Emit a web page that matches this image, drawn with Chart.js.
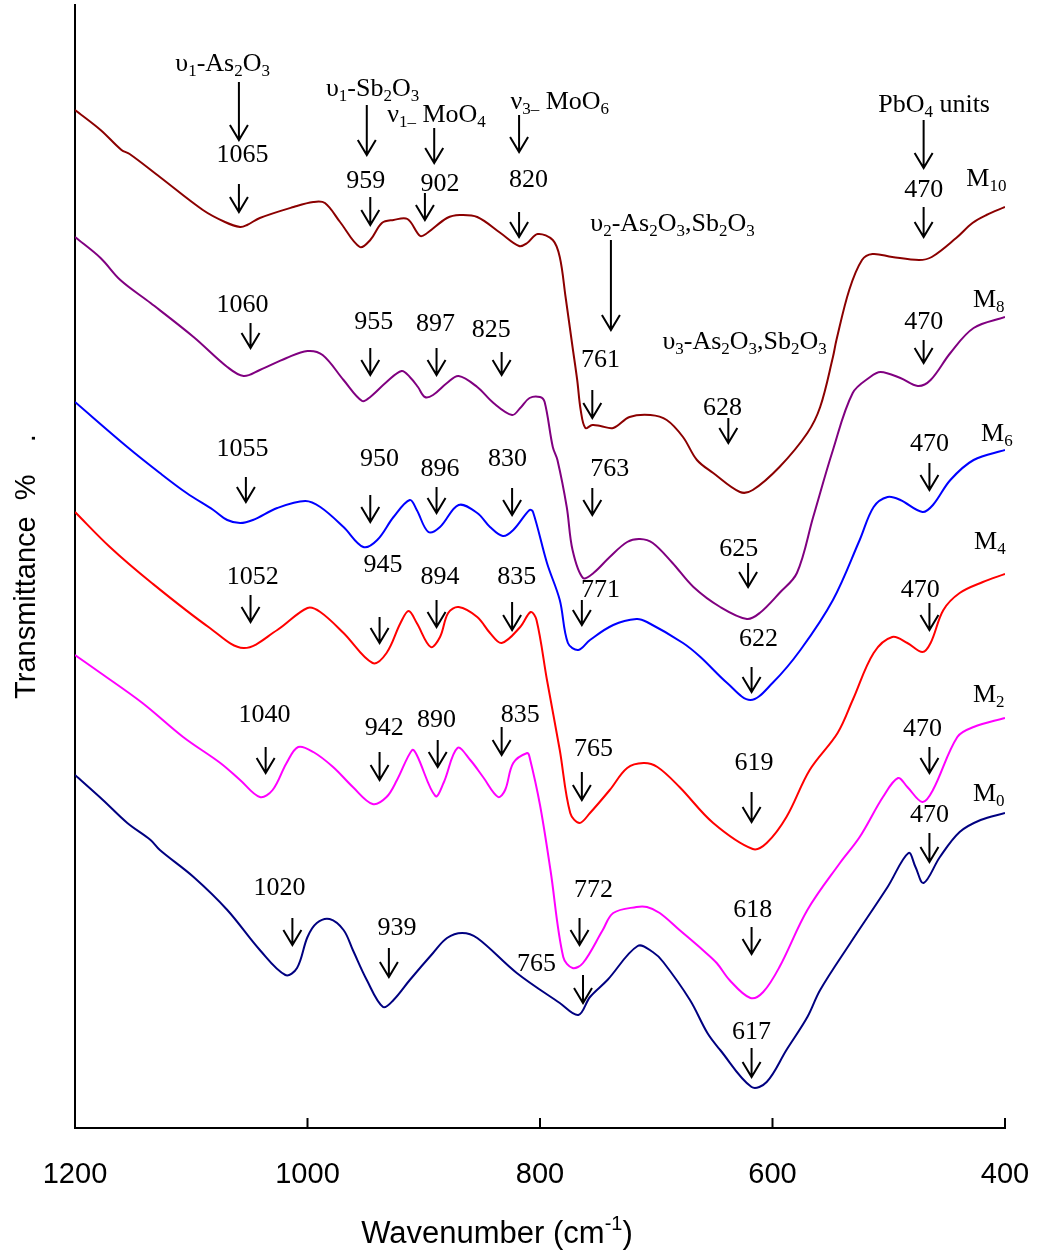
<!DOCTYPE html>
<html>
<head>
<meta charset="utf-8">
<script src="https://cdn.jsdelivr.net/npm/chart.js@4.4.1/dist/chart.umd.min.js"></script>
<style>
  body { margin: 0; background: #fff; }
  canvas { display: block; }
</style>
</head>
<body>
<canvas id="ftir" width="1039" height="1256"></canvas>
<script>
// wavenumber (cm-1) / transmittance (arb. units, stacked)
const m10Wave = [1200,1178,1160,1153,1127,1090,1071,1058,1052,1041,1012,995,985,972,955,946,936,926,914,903,897,880,869,854,834,818,811,802,789,783,778,772,768,765,761,755,748,737,723,705,691,677,665,651,628,617,594,570,559,548,545,534,523,514,497,474,463,442,428,416,400];
const m10T = [1018,998,978,974,951,918,906,901,903,910,921,926,925,906,881,888,905,908,909,892,895,910,913,911,895,882,885,894,888,871,831,781,748,718,700,703,702,700,711,713,708,691,668,655,636,638,661,695,721,771,788,838,868,874,871,868,871,890,905,913,921];

const m8Wave = [1200,1178,1161,1135,1098,1069,1055,1041,1018,1000,987,969,953,946,932,919,912,905,899,892,880,870,854,840,824,817,809,800,796,789,785,777,772,763,754,740,725,714,703,686,668,645,622,611,594,579,565,548,531,516,507,490,475,464,447,427,400];
const m8T = [891,870,848,825,791,761,752,758,770,777,773,748,727,731,746,757,751,741,731,733,745,752,741,725,713,720,730,731,726,681,668,621,578,550,555,571,586,589,585,565,541,521,509,515,535,555,611,678,735,751,756,750,742,748,775,800,811];

const m6Wave = [1200,1155,1127,1104,1081,1069,1058,1047,1026,1002,989,969,952,940,926,912,906,896,886,870,854,843,832,823,809,806,794,783,776,767,757,737,717,708,677,662,639,619,600,576,548,525,513,501,490,471,462,447,427,400];
const m6T = [726,681,655,635,618,608,605,608,620,627,621,601,581,588,611,628,618,596,601,623,615,601,592,598,618,616,565,528,485,478,488,503,509,506,485,471,445,428,445,478,528,588,621,631,628,616,623,648,668,678];

const m4Wave = [1200,1170,1135,1084,1055,1026,1000,989,969,944,932,920,913,906,894,886,879,870,854,843,833,817,808,803,794,783,774,766,757,740,725,711,699,680,651,617,605,588,568,544,531,513,497,484,471,464,453,439,419,400];
const m4T = [616,581,546,500,480,498,520,516,495,465,475,505,517,505,481,491,515,521,511,495,485,501,516,508,448,378,315,305,315,338,360,365,361,341,305,279,285,311,358,395,428,475,491,485,476,485,518,535,546,554];

const m2Wave = [1200,1178,1142,1107,1075,1058,1041,1030,1018,1008,995,978,961,944,932,923,910,906,890,883,871,860,849,836,830,823,811,809,800,791,780,772,763,746,737,717,708,697,680,660,648,637,619,608,594,570,542,525,505,492,484,471,462,441,427,400];
const m2T = [473,455,425,391,365,348,331,338,365,381,376,361,341,324,331,348,378,373,332,345,380,368,351,331,338,365,375,371,323,258,171,160,165,198,215,221,221,215,198,178,165,148,130,136,161,218,265,291,331,350,341,326,338,391,401,410];

const m0Wave = [1200,1176,1155,1135,1127,1098,1069,1041,1019,1009,1000,992,981,969,961,949,935,926,912,892,880,867,854,820,783,767,757,742,716,703,694,671,656,645,618,605,588,570,559,533,501,483,477,470,456,439,421,400];
const m0T = [353,328,305,288,278,251,218,178,153,160,191,205,209,198,178,148,121,128,148,175,190,195,190,155,125,113,131,148,182,176,166,128,95,78,41,46,78,111,138,185,241,275,261,245,271,296,308,315];

const xTicks = [1200, 1000, 800, 600, 400];

// band labels: [text, wavenumber, T]  (_ subscript, ^ superscript)
const bandLabels = [
  ['υ_1-As_2O_3',1073,1066], ['1065',1056,975], ['υ_1-Sb_2O_3',944,1041], ['959',950,949],
  ['ν_{1–} MoO_4',889,1015], ['902',886,946], ['ν_{3–} MoO_6',783,1028], ['820',810,950],
  ['υ_2-As_2O_3,Sb_2O_3',686,906], ['761',748,770], ['υ_3-As_2O_3,Sb_2O_3',624,788], ['628',643,722],
  ['PbO_4 units',461,1025], ['470',470,940], ['M_{10}',416,951],
  ['1060',1056,825], ['955',943,808], ['897',890,806], ['825',842,800], ['763',740,661], ['625',629,581], ['470',470,808], ['M_8',414,830],
  ['1055',1056,681], ['950',938,671], ['896',886,661], ['830',828,671], ['771',748,540], ['622',612,491], ['470',465,686], ['M_6',407,696],
  ['1052',1047,553], ['945',935,565], ['894',886,553], ['835',820,553], ['765',754,381], ['619',616,367], ['470',473,540], ['M_4',413,588],
  ['1040',1037,415], ['942',934,402], ['890',889,410], ['835',817,415], ['772',754,240], ['618',617,220], ['470',471,401], ['M_2',414,435],
  ['1020',1024,242], ['939',923,202], ['765',803,166], ['617',618,98], ['470',465,315], ['M_0',414,336]
];

// arrows: [wavenumber, T top, T tip]
const bandArrows = [
  [1059,1046,988], [1059,944,916], [949,1023,973], [946,931,903], [891,1000,965], [899,935,908],
  [818,1013,976], [818,916,891], [739,888,798], [755,738,710], [638,710,685], [470,1008,960], [470,921,891],
  [1049,805,780], [946,780,753], [889,780,753], [833,776,753], [755,640,613], [621,565,541], [470,788,765],
  [1053,651,626], [946,633,606], [889,641,615], [824,640,613], [764,528,503], [618,461,436], [465,665,638],
  [1049,533,506], [938,511,485], [889,528,501], [824,526,498], [764,356,328], [618,336,306], [465,525,498],
  [1036,381,355], [938,376,348], [888,388,361], [833,401,373], [766,210,183], [618,201,174], [465,381,355],
  [1013,210,183], [930,180,151], [763,153,125], [618,80,51], [465,295,266]
];

const series = [
  ['M10', m10Wave, m10T, '#8B0000'],
  ['M8', m8Wave, m8T, '#800080'],
  ['M6', m6Wave, m6T, '#0000FF'],
  ['M4', m4Wave, m4T, '#FF0000'],
  ['M2', m2Wave, m2T, '#FF00FF'],
  ['M0', m0Wave, m0T, '#000080']
];

function richParts(s) {
  const parts = [];
  let buf = '', i = 0;
  while (i < s.length) {
    const c = s[i];
    if (c === '_' || c === '^') {
      if (buf) { parts.push([buf, 0]); buf = ''; }
      let t;
      if (s[i + 1] === '{') { const j = s.indexOf('}', i); t = s.slice(i + 2, j); i = j + 1; }
      else { t = s[i + 1]; i += 2; }
      parts.push([t, c === '_' ? 1 : -1]);
    } else { buf += c; i++; }
  }
  if (buf) parts.push([buf, 0]);
  return parts;
}

function drawRich(ctx, s, x, y, size, family) {
  const parts = richParts(s);
  const small = Math.round(size * 0.65);
  let w = 0;
  parts.forEach(p => { ctx.font = (p[1] ? small : size) + 'px ' + family; w += ctx.measureText(p[0]).width; });
  let cx = x - w / 2;
  const base = y + size * 0.33;
  ctx.textAlign = 'left';
  ctx.textBaseline = 'alphabetic';
  parts.forEach(p => {
    ctx.font = (p[1] ? small : size) + 'px ' + family;
    const dy = p[1] === 1 ? size * 0.22 : (p[1] === -1 ? -size * 0.42 : 0);
    ctx.fillText(p[0], cx, base + dy);
    cx += ctx.measureText(p[0]).width;
  });
}

const bandPlugin = {
  id: 'bands',
  afterDraw(chart) {
    const { ctx, scales: { x, y }, chartArea } = chart;
    ctx.save();
    ctx.strokeStyle = '#000';
    ctx.fillStyle = '#000';
    ctx.lineWidth = 2;
    // inner tick marks
    x.ticks.forEach(t => {
      const px = x.getPixelForValue(t.value);
      ctx.beginPath();
      ctx.moveTo(px, chartArea.bottom);
      ctx.lineTo(px, chartArea.bottom - 10);
      ctx.stroke();
    });
    bandArrows.forEach(a => {
      const px = x.getPixelForValue(a[0]);
      const y0 = y.getPixelForValue(a[1]);
      const y1 = y.getPixelForValue(a[2]);
      ctx.beginPath();
      ctx.moveTo(px, y0);
      ctx.lineTo(px, y1);
      ctx.moveTo(px - 9, y1 - 15);
      ctx.lineTo(px, y1);
      ctx.lineTo(px + 9, y1 - 15);
      ctx.stroke();
    });
    bandLabels.forEach(l => {
      drawRich(ctx, l[0], x.getPixelForValue(l[1]), y.getPixelForValue(l[2]), 26, '"Liberation Serif", "Times New Roman", serif');
    });
    // x axis title with superscript
    drawRich(ctx, 'Wavenumber (cm^{-1})', 497, 1233, 31, '"Liberation Sans", Arial, sans-serif');
    ctx.restore();
  }
};

new Chart(document.getElementById('ftir'), {
  type: 'line',
  data: {
    datasets: series.map(s => ({
      label: s[0],
      data: s[1].map((w, i) => ({ x: w, y: s[2][i] })),
      borderColor: s[3],
      borderWidth: 2,
      pointRadius: 0,
      tension: 0.35,
      fill: false
    }))
  },
  options: {
    responsive: false,
    animation: false,
    layout: { padding: { top: 5, right: 34, left: 0, bottom: 0 } },
    plugins: { legend: { display: false }, tooltip: { enabled: false } },
    scales: {
      x: {
        type: 'linear', reverse: true, min: 400, max: 1200,
        afterFit: s => { s.height = 128; s.paddingLeft = 0; s.paddingRight = 0; },
        afterBuildTicks: s => { s.ticks = xTicks.map(v => ({ value: v })); },
        ticks: {
          color: '#000', font: { family: '"Liberation Sans", Arial, sans-serif', size: 29 },
          padding: 30, maxRotation: 0, callback: v => String(v)
        },
        grid: { display: false, drawTicks: false },
        border: { color: '#000', width: 2 }
      },
      y: {
        min: 0, max: 1123,
        afterFit: s => { s.width = 75; },
        ticks: { display: false },
        grid: { display: false, drawTicks: false },
        border: { color: '#000', width: 2 },
        title: {
          display: true, text: 'Transmittance  %    .', color: '#000',
          font: { family: '"Liberation Sans", Arial, sans-serif', size: 29 },
          padding: { top: 10, bottom: 0 }
        }
      }
    }
  },
  plugins: [bandPlugin]
});
</script>
</body>
</html>
